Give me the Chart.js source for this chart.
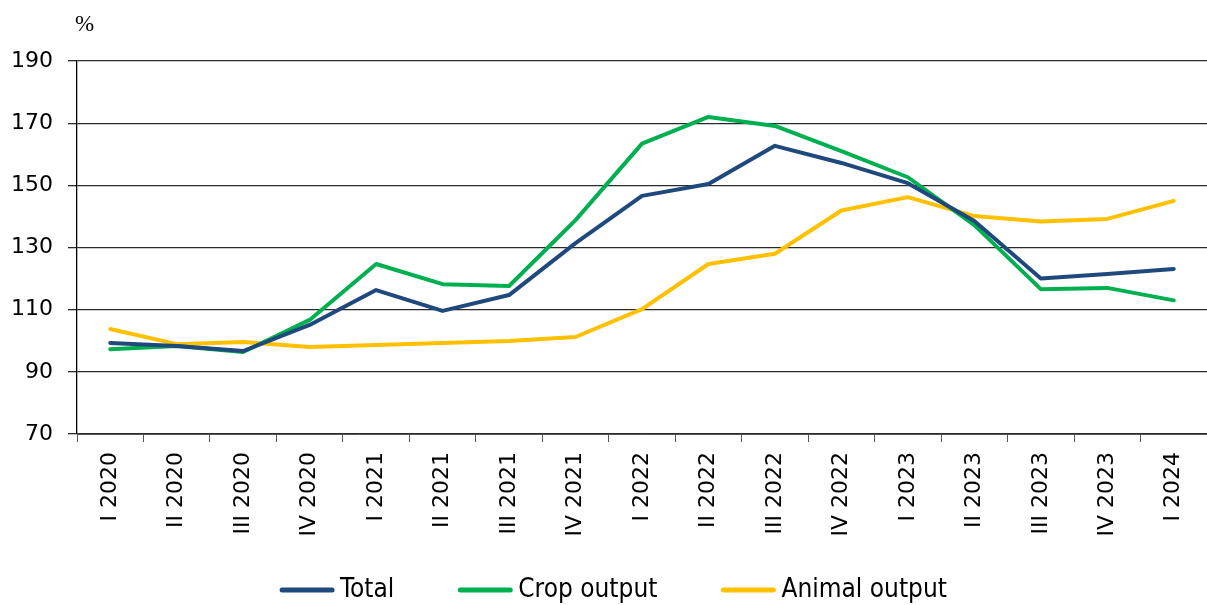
<!DOCTYPE html>
<html>
<head>
<meta charset="utf-8">
<script src="https://cdn.jsdelivr.net/npm/chart.js@4"></script>
<style>
  html, body { margin: 0; padding: 0; background: #fff; }
  #wrap { width: 1207px; height: 605px; position: relative; }
</style>
</head>
<body>
<div id="wrap"><canvas id="c"></canvas></div>
<script>
const categories = ["I 2020","II 2020","III 2020","IV 2020","I 2021","II 2021","III 2021","IV 2021","I 2022","II 2022","III 2022","IV 2022","I 2023","II 2023","III 2023","IV 2023","I 2024"];
const totalValues  = [99.3, 98.3, 96.7, 105.1, 116.3, 109.6, 114.7, 131.4, 146.6, 150.4, 162.7, 157.2, 150.7, 138.5, 120.0, 121.5, 123.1];
const cropValues   = [97.3, 98.3, 96.4, 106.7, 124.7, 118.2, 117.6, 138.8, 163.4, 172.0, 169.1, 161.0, 152.6, 137.2, 116.6, 117.0, 113.0];
const animalValues = [103.8, 98.9, 99.6, 98.0, 98.6, 99.3, 99.9, 101.2, 110.2, 124.7, 128.0, 141.9, 146.2, 140.1, 138.4, 139.2, 145.0];
const seriesNames  = ["Total", "Crop output", "Animal output"];
const seriesColors = ["#1F497D", "#00B050", "#FFC000"];
const yTicks = [70, 90, 110, 130, 150, 170, 190];
const unitLabel = "%";

const extras = {
  id: 'extras',
  afterDraw(chart) {
    const ctx = chart.ctx;
    ctx.save();
    // unit label
    ctx.fillStyle = '#000';
    ctx.font = '23px "Liberation Serif", serif';
    ctx.textBaseline = 'alphabetic';
    ctx.textAlign = 'left';
    ctx.fillText(unitLabel, 75, 31);
    // legend
    ctx.font = '26px "DejaVu Sans Condensed", "DejaVu Sans", sans-serif';
    const lineLen = 54, gapText = 6, gapItem = 64;
    const widths = chart.data.datasets.map(d => lineLen + gapText + ctx.measureText(d.label).width);
    const total = widths.reduce((a, b) => a + b, 0) + gapItem * (widths.length - 1);
    let x = chart.width / 2 + 10 - total / 2;
    const y = 590;
    chart.data.datasets.forEach((d, i) => {
      ctx.strokeStyle = d.borderColor;
      ctx.lineWidth = 5;
      ctx.lineCap = 'round';
      ctx.beginPath();
      ctx.moveTo(x + 2, y);
      ctx.lineTo(x + lineLen - 2, y);
      ctx.stroke();
      ctx.fillStyle = '#000';
      ctx.textBaseline = 'middle';
      ctx.fillText(d.label, x + lineLen + gapText, y);
      x += widths[i] + gapItem;
    });
    ctx.restore();
  }
};

new Chart(document.getElementById('c'), {
  type: 'line',
  data: {
    labels: categories,
    datasets: [
      { label: seriesNames[0], data: totalValues,  borderColor: seriesColors[0], backgroundColor: seriesColors[0] },
      { label: seriesNames[1], data: cropValues,   borderColor: seriesColors[1], backgroundColor: seriesColors[1] },
      { label: seriesNames[2], data: animalValues, borderColor: seriesColors[2], backgroundColor: seriesColors[2] }
    ]
  },
  options: {
    responsive: true,
    maintainAspectRatio: false,
    animation: false,
    layout: { padding: { top: 61, left: 0, right: 0, bottom: 0 } },
    elements: {
      line: { borderWidth: 4, tension: 0, borderCapStyle: 'round', borderJoinStyle: 'round' },
      point: { radius: 0, hoverRadius: 0 }
    },
    plugins: {
      legend: { display: false },
      tooltip: { enabled: false }
    },
    scales: {
      x: {
        offset: true,
        afterFit(scale) { scale.height = 171; scale.paddingRight = 0; scale.paddingLeft = 0; },
        grid: { drawOnChartArea: false, offset: true, tickLength: 8, color: '#555', lineWidth: 1 },
        border: { color: '#555', width: 1 },
        ticks: {
          maxRotation: 90, minRotation: 90, autoSkip: false, padding: 10,
          color: '#000',
          font: { family: '"DejaVu Sans", Verdana, sans-serif', size: 22 }
        }
      },
      y: {
        min: 70, max: 190,
        afterFit(scale) { scale.width = 77; },
        afterBuildTicks(scale) { scale.ticks = yTicks.map(v => ({ value: v })); },
        grid: { color: '#2a2a2a', lineWidth: 1.3, tickLength: 9 },
        border: { color: '#000', width: 1.3 },
        ticks: {
          padding: 15, color: '#000',
          font: { family: '"DejaVu Sans", Verdana, sans-serif', size: 22 }
        }
      }
    }
  },
  plugins: [extras]
});
</script>
</body>
</html>
